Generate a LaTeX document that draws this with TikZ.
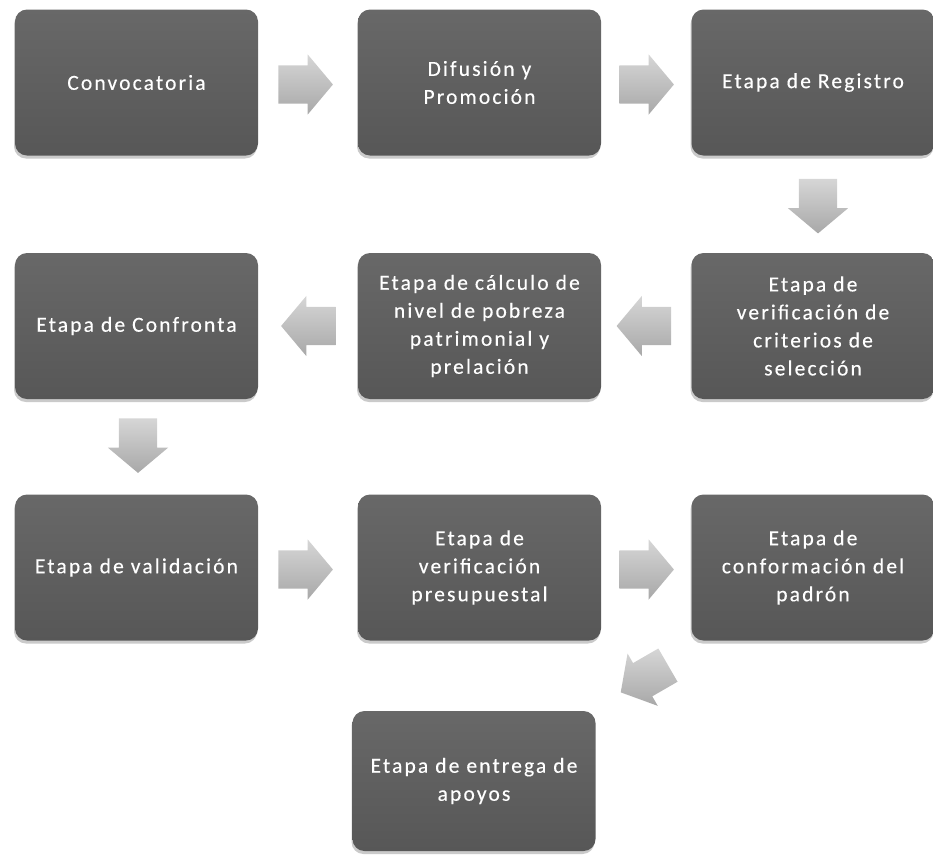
\documentclass[tikz,border=0pt]{standalone}
\usepackage{fontspec}
\setmainfont[LetterSpace=10,FakeBold=0.3]{Carlito}
\usetikzlibrary{shapes.arrows,shadows,calc}
\definecolor{boxtop}{HTML}{686868}
\definecolor{boxbot}{HTML}{575757}
\definecolor{arrtop}{HTML}{D6D6D6}
\definecolor{arrbot}{HTML}{A8A8A8}
\tikzset{
  stagebox/.style={rounded corners=12pt, top color=boxtop, bottom color=boxbot,
    draw=none, minimum width=243pt, minimum height=146pt, text=white,
    align=center, font=\fontsize{21.5}{28}\selectfont, inner sep=4pt,
    drop shadow={shadow xshift=-1pt, shadow yshift=-3pt, fill=black!35, opacity=0.6}},
  blockarrow/.style={single arrow, draw=none, top color=arrtop, bottom color=arrbot,
    minimum height=54pt, minimum width=60pt, inner sep=19pt,
    single arrow head extend=11pt, single arrow tip angle=100, anchor=tail}
}
\begin{document}
\begin{tikzpicture}[x=1pt,y=-1pt]
\useasboundingbox (0,0) rectangle (933,860);
% row 1
\node[stagebox] (b1) at (136.5,82.5) {Convocatoria};
\node[stagebox] (b2) at (479.5,82.5) {Difusión y\\Promoción};
\node[stagebox] (b3) at (813,82.5) {Etapa de Registro};
% row 2
\node[stagebox] (b4) at (136.5,326) {Etapa de Confronta};
\node[stagebox] (b5) at (479.5,326) {Etapa de cálculo de\\nivel de pobreza\\patrimonial y\\prelación};
\node[stagebox] (b6) at (813,326) {Etapa de\\verificación de\\criterios de\\selección};
% row 3
\node[stagebox] (b7) at (136.5,567.5) {Etapa de validación};
\node[stagebox] (b8) at (479.5,567.5) {Etapa de\\verificación\\presupuestal};
\node[stagebox] (b9) at (813,567.5) {Etapa de\\conformación del\\padrón};
% row 4
\node[stagebox, minimum height=140pt] (b10) at (474,781) {Etapa de entrega de\\apoyos};
% block arrows
\node[blockarrow] (a1) at ($(b1.east)+(20,2)$) {};
\node[blockarrow] (a2) at ($(b2.east)+(18,2)$) {};
\node[blockarrow, rotate=-90] (a3) at ($(b3.south)+(5,23)$) {};
\node[blockarrow, rotate=180] (a4) at ($(b6.west)+(-20,0)$) {};
\node[blockarrow, rotate=180] (a5) at ($(b5.west)+(-22,0)$) {};
\node[blockarrow, rotate=-90] (a6) at ($(b4.south)+(1.5,19)$) {};
\node[blockarrow] (a7) at ($(b7.east)+(20,2)$) {};
\node[blockarrow] (a8) at ($(b8.east)+(18,2)$) {};
\node[blockarrow, rotate=-150, anchor=center] (a9) at ($(b9.south west)+(-40,34)$) {};
\end{tikzpicture}
\end{document}
